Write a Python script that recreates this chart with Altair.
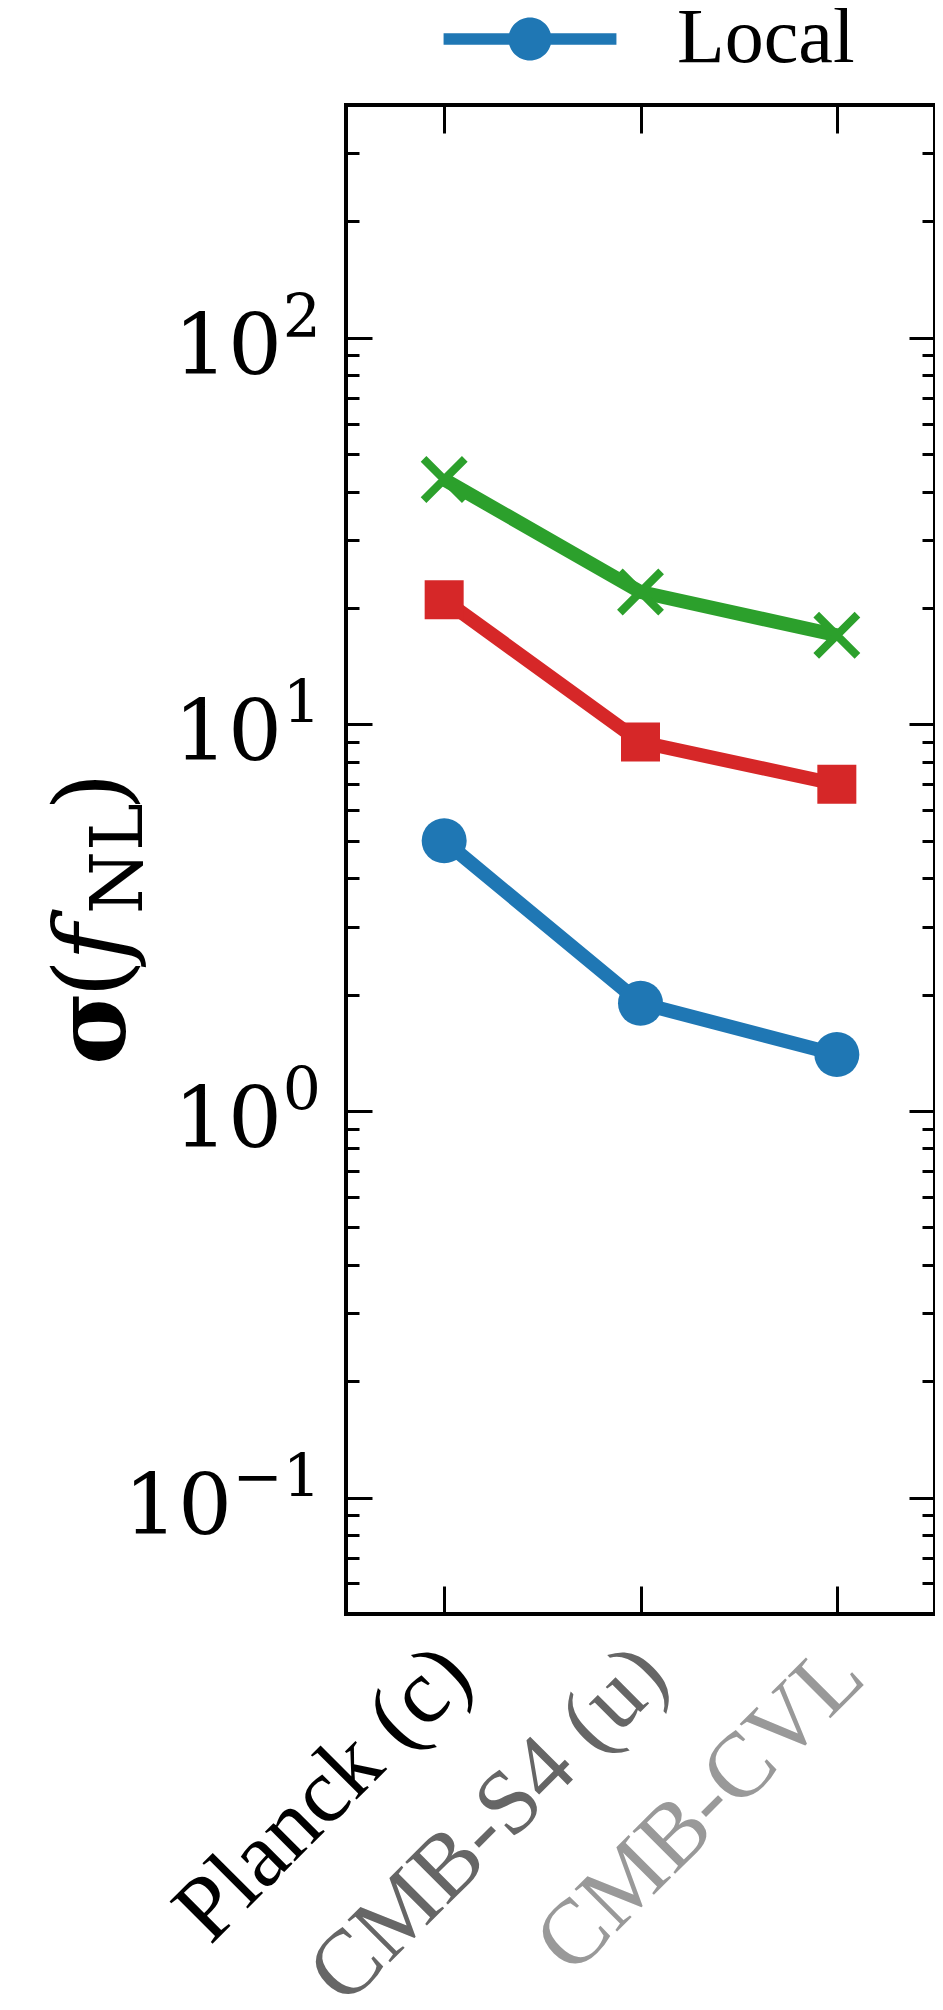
import altair as alt
import pandas as pd

# ---------------- data ----------------
surveys = ["Planck (c)", "CMB-S4 (u)", "CMB-CVL"]
survey_label_colors = ["#000000", "#666666", "#999999"]
series = ["Local", "Equilateral", "Orthogonal"]
series_colors = ["#1f77b4", "#d62728", "#2ca02c"]
sigma_local = [5.0, 1.9, 1.4]
sigma_equil = [21.0, 9.0, 7.0]
sigma_ortho = [43.0, 22.0, 17.0]

y_major = [0.1, 1, 10, 100]
y_major_exp = ["\u22121", "0", "1", "2"]
y_minor = [0.05, 0.06, 0.07, 0.08, 0.09,
           0.2, 0.3, 0.4, 0.5, 0.6, 0.7, 0.8, 0.9,
           2, 3, 4, 5, 6, 7, 8, 9,
           20, 30, 40, 50, 60, 70, 80, 90,
           200, 300, 400]

W, H = 589, 1509

rows = []
for name, vals in zip(series, [sigma_local, sigma_equil, sigma_ortho]):
    for s, v in zip(surveys, vals):
        rows.append({"series": name, "survey": s, "sigma": v})
df = pd.DataFrame(rows)
lab = pd.DataFrame({"tv": y_major, "sup": y_major_exp})
one = pd.DataFrame({"k": [0]})

xscale = alt.Scale(type="point", domain=surveys, padding=0.5)
yscale = alt.Scale(type="log", domain=[0.05, 400], nice=False)
cscale = alt.Scale(domain=series, range=series_colors)


def tick_axis(orient, offset, values, size):
    return alt.Axis(orient=orient, offset=offset, values=values, tickSize=size,
                    tickWidth=3, tickColor="black", ticks=True, labels=False,
                    domain=False, grid=False, title=None)


label_axis = alt.Axis(
    orient="bottom", ticks=False, tickSize=0, domain=False, grid=False, title=None,
    labelAngle=315, labelAlign="right", labelBaseline="alphabetic",
    labelFont="Liberation Serif", labelFontSize=92, labelPadding=66,
    labelOffset=31, labelLimit=0,
    labelOverlap=False, labelBound=False, labelFlush=False,
    labelColor={"condition": [
        {"test": f"datum.value == '{surveys[1]}'", "value": survey_label_colors[1]},
        {"test": f"datum.value == '{surveys[2]}'", "value": survey_label_colors[2]},
    ], "value": survey_label_colors[0]},
)

base = alt.Chart(df)

LEGEND_PATH = ("M-4.02,-0.27L-0.5,-0.27L-0.5,0.27L-4.02,0.27Z "
               "M0.5,-0.27L4.02,-0.27L4.02,0.27L0.5,0.27Z "
               "M1,0A1,1,0,1,1,-1,0A1,1,0,1,1,1,0Z")

lines = base.mark_line(strokeWidth=14).encode(
    x=alt.X("survey:N", scale=xscale, sort=surveys, axis=label_axis),
    y=alt.Y("sigma:Q", scale=yscale, axis=tick_axis("right", -W, y_major, 26)),
    color=alt.Color("series:N", scale=cscale, legend=None),
    detail="series:N",
)

local_pts = base.transform_filter(f"datum.series == '{series[0]}'").mark_point(
    filled=True, size=2025, opacity=1, strokeWidth=0
).encode(
    x=alt.X("survey:N", scale=xscale, sort=surveys, axis=tick_axis("top", -H, surveys, 28)),
    y=alt.Y("sigma:Q", scale=yscale, axis=tick_axis("right", -W, y_minor, 13)),
    color=alt.Color("series:N", scale=cscale, legend=alt.Legend(
        values=[series[0]], orient="none", legendX=145, legendY=-105,
        title=None, symbolType=LEGEND_PATH, symbolSize=1849,
        symbolStrokeWidth=0, symbolOpacity=1, labelFont="Liberation Serif",
        labelFontSize=78, labelColor="black", labelOffset=108, labelLimit=0,
        padding=0,
    )),
)

sq_pts = base.transform_filter(f"datum.series == '{series[1]}'").mark_point(
    filled=True, shape="square", size=1521, opacity=1, strokeWidth=0
).encode(
    x=alt.X("survey:N", scale=xscale, sort=surveys, axis=tick_axis("bottom", -H, surveys, 28)),
    y=alt.Y("sigma:Q", scale=yscale, axis=tick_axis("left", -W, y_major, 26)),
    color=alt.Color("series:N", scale=cscale, legend=None),
)

x_pts = base.transform_filter(f"datum.series == '{series[2]}'").mark_point(
    filled=False, shape="M-1,-1L1,1M-1,1L1,-1", size=1700, opacity=1, strokeWidth=8
).encode(
    x=alt.X("survey:N", scale=xscale, sort=surveys, axis=None),
    y=alt.Y("sigma:Q", scale=yscale, axis=tick_axis("left", -W, y_minor, 13)),
    color=alt.Color("series:N", scale=cscale, legend=None),
)

ten = alt.Chart(lab).mark_text(
    text="10", align="right", baseline="alphabetic", font="DejaVu Serif",
    fontSize=85, dy=36, dx=alt.expr("datum.tv < 1 ? -89 : -39"), color="black"
).encode(x=alt.value(-25), y=alt.Y("tv:Q", scale=yscale, axis=None))

sup = alt.Chart(lab).mark_text(
    align="right", baseline="alphabetic", font="DejaVu Serif",
    fontSize=60, dy=-1, color="black"
).encode(x=alt.value(-25), y=alt.Y("tv:Q", scale=yscale, axis=None), text="sup:N")


def title_piece(txt, xpos, ypos, size, weight="normal", style="normal"):
    return alt.Chart(one).mark_text(
        text=txt, angle=270, align="left", baseline="alphabetic",
        font="DejaVu Serif", fontSize=size, fontWeight=weight, fontStyle=style,
        color="black"
    ).encode(x=alt.value(xpos), y=alt.value(ypos))


t1 = title_piece("\u03c3", -221, 960, 100, weight="bold")
t2 = title_piece("(", -221, 893, 100)
t3 = title_piece("f", -221, 856, 100, style="italic")
t4 = title_piece("NL", -204, 809, 72)
t5 = title_piece(")", -221, 706, 100)

chart = alt.layer(lines, local_pts, sq_pts, x_pts, ten, sup, t1, t2, t3, t4, t5).resolve_axis(
    x="independent", y="independent"
).resolve_legend(color="independent").properties(
    width=W, height=H,
    autosize=alt.AutoSizeParams(type="none"),
    padding={"left": 338, "top": 97, "right": 0, "bottom": 386},
    background="white",
).configure_view(stroke="black", strokeWidth=4)

chart.save("out.html", embed_options={"renderer": "svg", "actions": False})
